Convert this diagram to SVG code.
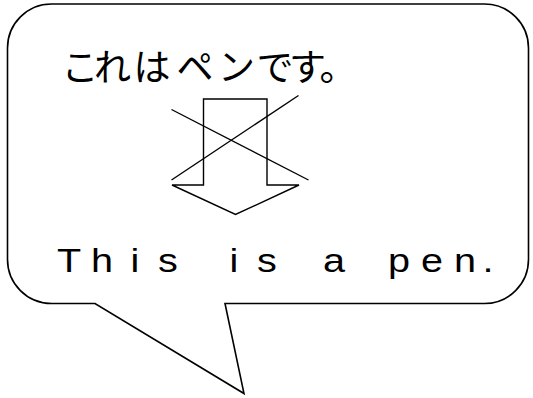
<svg xmlns="http://www.w3.org/2000/svg" width="533" height="398" viewBox="0 0 533 398">
  <style>
    .ln { fill: none; stroke: #000; stroke-width: 1.4; stroke-linejoin: miter; }
    .bub { fill: #fff; stroke: #000; stroke-width: 1.6; stroke-linejoin: miter; }
    .jp { font-family: "Noto Sans CJK JP", "Noto Sans", sans-serif; font-size: 37px; fill: #000; }
    .en { font-family: "Liberation Sans", Arial, sans-serif; font-size: 33px; fill: #000; }
  </style>
  <rect width="533" height="398" fill="#fff"/>
  <g id="bubble">
    <path class="bub" d="M95,303.5 L51.5,303.5 A44,44 0 0 1 7.5,259.5 L7.5,48 A44,44 0 0 1 51.5,4 L484.5,4 A44,44 0 0 1 528.5,48 L528.5,259.5 A44,44 0 0 1 484.5,303.5 L225,303.5 L244,393.5 Z"/>
  </g>
  <g id="japanese-text">
    <text class="jp" text-anchor="middle" y="81" x="80 112.5 152 195 236.5 275 307.5 338">これはペンです。</text>
  </g>
  <g id="arrow">
    <path class="ln" d="M203.5,99 L267,99 L267,185 L299,185 L235.5,214.5 L172,185 L203.5,185 Z"/>
  </g>
  <g id="connectors">
    <line class="ln" x1="171.5" y1="109.5" x2="308.5" y2="180"/>
    <line class="ln" x1="171.5" y1="180" x2="298.5" y2="95.5"/>
  </g>
  <g id="english-text">
    <text class="en" transform="scale(1.2 1)" text-anchor="middle" y="272" x="57.5 85 112.5 140 167.5 195 222.5 250 278.3 305 332.5 360 387.5 406.7">This is a pen.</text>
  </g>
</svg>
